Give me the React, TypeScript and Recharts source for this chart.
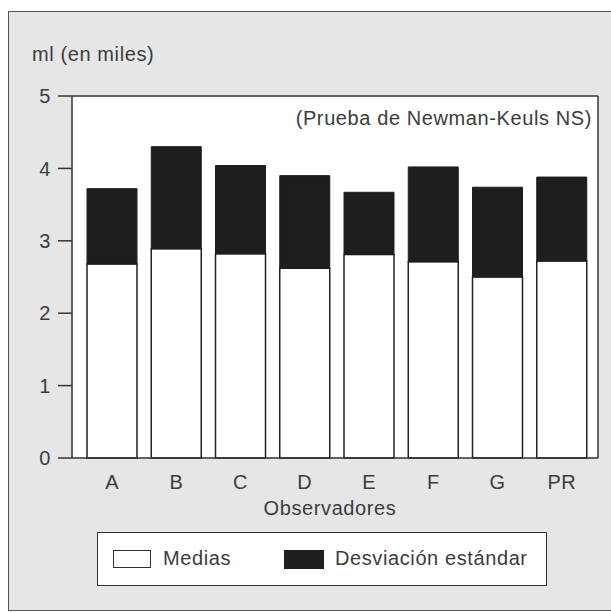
import React from "react";
import { BarChart, Bar, XAxis, YAxis, CartesianGrid, ReferenceLine } from "recharts";

const observadores = ["A", "B", "C", "D", "E", "F", "G", "PR"];
const medias = [2.68, 2.89, 2.82, 2.62, 2.81, 2.71, 2.5, 2.72];
const desviacion = [1.04, 1.41, 1.22, 1.28, 0.86, 1.31, 1.24, 1.16];
const yTicks = [0, 1, 2, 3, 4, 5];

const data = observadores.map((obs, i) => ({ obs, media: medias[i], sd: desviacion[i] }));

const FONT = "'Liberation Sans', Arial, Helvetica, sans-serif";
const INK = "#333";
const TXT = "#3c3c3c";
const FS = 20;

export default function App() {
  return (
    <div style={{ position: "fixed", left: 0, top: 0, width: 611, height: 613, overflow: "hidden", fontFamily: FONT, letterSpacing: 0.6 }}>
      {/* scanned frame */}
      <div style={{ position: "absolute", left: 8, top: 11, width: 620, height: 598, border: "1.5px solid #555", background: "#e6e6e6" }} />
      <div style={{ position: "absolute", left: 0, top: 0 }}>
        <BarChart width={611} height={613} data={data} margin={{ top: 96, right: 12, left: 8, bottom: 95 }} barSize={50}>
          <CartesianGrid horizontal={false} vertical={false} fill="#fff" />
          <XAxis
            dataKey="obs"
            height={60}
            padding={{ left: 8, right: 4 }}
            tickLine={false}
            tickMargin={11}
            axisLine={{ stroke: INK, strokeWidth: 1.5 }}
            tick={{ fill: TXT, fontSize: FS }}
            label={{ value: "Observadores", position: "insideBottom", offset: 3, dx: -5, fill: TXT, fontSize: FS }}
          />
          <YAxis
            yAxisId="l"
            width={64}
            domain={[0, 5]}
            ticks={yTicks}
            tickSize={14}
            tickMargin={7}
            axisLine={{ stroke: INK, strokeWidth: 1.5 }}
            tickLine={{ stroke: INK, strokeWidth: 1.5 }}
            tick={{ fill: TXT, fontSize: FS }}
            label={{
              content: () => (
                <text x={32} y={61} fill={TXT} fontSize={FS}>
                  ml (en miles)
                </text>
              ),
            }}
          />
          <YAxis yAxisId="r" orientation="right" width={1} domain={[0, 5]} tick={false} tickLine={false} axisLine={{ stroke: INK, strokeWidth: 1.5 }} />
          <ReferenceLine
            yAxisId="l"
            y={5}
            stroke={INK}
            strokeWidth={1.5}
            label={{
              content: (p: any) => (
                <text x={p.viewBox.x + p.viewBox.width - 6} y={p.viewBox.y + 29} textAnchor="end" fill={TXT} fontSize={FS}>
                  (Prueba de Newman-Keuls NS)
                </text>
              ),
            }}
          />
          <Bar yAxisId="l" dataKey="media" name="Medias" stackId="s" fill="#fff" stroke="#222" strokeWidth={1.5} isAnimationActive={false} />
          <Bar yAxisId="l" dataKey="sd" name="Desviación estándar" stackId="s" fill="#1e1e1e" stroke="#1e1e1e" strokeWidth={1} isAnimationActive={false} />
        </BarChart>
      </div>
      {/* legend */}
      <div style={{ position: "absolute", left: 97, top: 532, width: 448, height: 52, border: "1.5px solid #333", background: "#fff", color: TXT, fontSize: FS }}>
        <div style={{ position: "absolute", left: 15, top: 17, width: 36, height: 16, border: "1.5px solid #333", background: "#fff" }} />
        <div style={{ position: "absolute", left: 65, top: 14, lineHeight: "22px" }}>Medias</div>
        <div style={{ position: "absolute", left: 186, top: 17, width: 40, height: 19, background: "#1e1e1e" }} />
        <div style={{ position: "absolute", left: 237, top: 14, lineHeight: "22px" }}>Desviación estándar</div>
      </div>
    </div>
  );
}
